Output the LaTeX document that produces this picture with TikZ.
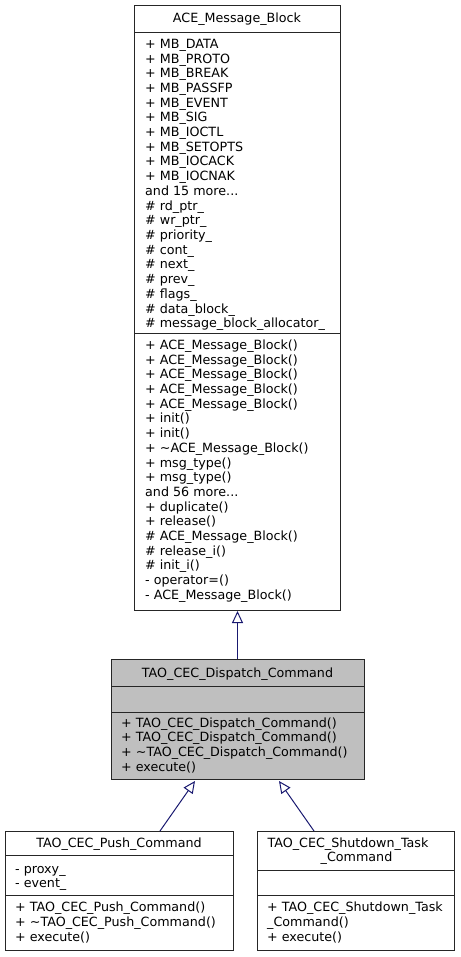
\documentclass[tikz,border=0pt]{standalone}
\usepackage{fontspec}
\setmainfont{DejaVu Sans}
\usetikzlibrary{arrows.meta,calc}
\definecolor{edgeblue}{HTML}{191970}
\definecolor{dispgray}{HTML}{BFBFBF}
\newcommand\tdots{...}
\begin{document}
\begin{tikzpicture}[x=1pt,y=-1pt,
  comp/.style={draw=black!85,line width=1pt,anchor=north west,inner sep=0pt,minimum width=#1},
  txt/.style={anchor=base west,inner sep=0pt,font=\fontsize{12.7}{14.7}\selectfont},
  ttl/.style={anchor=base,inner sep=0pt,font=\fontsize{12.7}{14.7}\selectfont},
  inh/.style={draw=edgeblue,line width=1pt,-{Triangle[open,width=11pt,length=12pt,fill=white]}}]
\useasboundingbox (0,0) rectangle (460,957);
% ---------- ACE_Message_Block ----------
\node[comp=206,minimum height=27] (aceT) at (134,5) {};
\node[comp=206,minimum height=301] (aceA) at (134,32) {};
\node[comp=206,minimum height=277] (aceM) at (134,333) {};
\node[ttl] (aceTitle) at (237,22.5) {ACE\_Message\_Block};
\foreach \t [count=\i] in {{+ MB\_DATA},{+ MB\_PROTO},{+ MB\_BREAK},{+ MB\_PASSFP},{+ MB\_EVENT},{+ MB\_SIG},{+ MB\_IOCTL},{+ MB\_SETOPTS},{+ MB\_IOCACK},{+ MB\_IOCNAK},{and 15 more\tdots},{\# rd\_ptr\_},{\# wr\_ptr\_},{\# priority\_},{\# cont\_},{\# next\_},{\# prev\_},{\# flags\_},{\# data\_block\_},{\# message\_block\_allocator\_}}
  \node[txt] (aceA\i) at (145,{48.4+(\i-1)*14.7}) {\t};
\foreach \t [count=\i] in {{+ ACE\_Message\_Block()},{+ ACE\_Message\_Block()},{+ ACE\_Message\_Block()},{+ ACE\_Message\_Block()},{+ ACE\_Message\_Block()},{+ init()},{+ init()},{+ \textasciitilde ACE\_Message\_Block()},{+ msg\_type()},{+ msg\_type()},{and 56 more\tdots},{+ duplicate()},{+ release()},{\# ACE\_Message\_Block()},{\# release\_i()},{\# init\_i()},{- operator=()},{- ACE\_Message\_Block()}}
  \node[txt] (aceM\i) at (145,{349.4+(\i-1)*14.7}) {\t};
% ---------- TAO_CEC_Dispatch_Command ----------
\node[comp=253,minimum height=27,fill=dispgray] (dispT) at (111,659) {};
\node[comp=253,minimum height=26,fill=dispgray] (dispA) at (111,686) {};
\node[comp=253,minimum height=67,fill=dispgray] (dispM) at (111,712) {};
\node[ttl] (dispTitle) at (237.5,677) {TAO\_CEC\_Dispatch\_Command};
\foreach \t [count=\i] in {{+ TAO\_CEC\_Dispatch\_Command()},{+ TAO\_CEC\_Dispatch\_Command()},{+ \textasciitilde TAO\_CEC\_Dispatch\_Command()},{+ execute()}}
  \node[txt] (dispM\i) at (121,{727.1+(\i-1)*14.7}) {\t};
% ---------- TAO_CEC_Push_Command ----------
\node[comp=228,minimum height=24] (pushT) at (5,831) {};
\node[comp=228,minimum height=40] (pushA) at (5,855) {};
\node[comp=228,minimum height=55] (pushM) at (5,895) {};
\node[ttl] (pushTitle) at (119,847.4) {TAO\_CEC\_Push\_Command};
\foreach \t [count=\i] in {{- proxy\_},{- event\_}}
  \node[txt] (pushA\i) at (15,{873.7+(\i-1)*13.6}) {\t};
\foreach \t [count=\i] in {{+ TAO\_CEC\_Push\_Command()},{+ \textasciitilde TAO\_CEC\_Push\_Command()},{+ execute()}}
  \node[txt] (pushM\i) at (15,{911.2+(\i-1)*15}) {\t};
% ---------- TAO_CEC_Shutdown_Task_Command ----------
\node[comp=197,minimum height=39] (shutT) at (256.5,831) {};
\node[comp=197,minimum height=25] (shutA) at (256.5,870) {};
\node[comp=197,minimum height=55] (shutM) at (256.5,895) {};
\node[ttl] (shutTitle1) at (348,847.2) {TAO\_CEC\_Shutdown\_Task};
\node[ttl] (shutTitle2) at (356.5,861.2) {\_Command};
\foreach \t [count=\i] in {{+ TAO\_CEC\_Shutdown\_Task},{\_Command()},{+ execute()}}
  \node[txt] (shutM\i) at (267,{911.2+(\i-1)*15}) {\t};
% ---------- inheritance edges ----------
\draw[inh] (dispT.north -| aceM.south) -- (aceM.south);
\coordinate (pushTop) at ($(pushT.north west)+(155,0)$);
\coordinate (dispTipL) at ($(dispM.south west)+(84,1)$);
\coordinate (shutTop) at ($(shutT.north west)+(57.5,0)$);
\coordinate (dispTipR) at ($(dispM.south west)+(168,1)$);
\draw[inh] (pushTop) -- (dispTipL);
\draw[inh] (shutTop) -- (dispTipR);
\end{tikzpicture}
\end{document}
